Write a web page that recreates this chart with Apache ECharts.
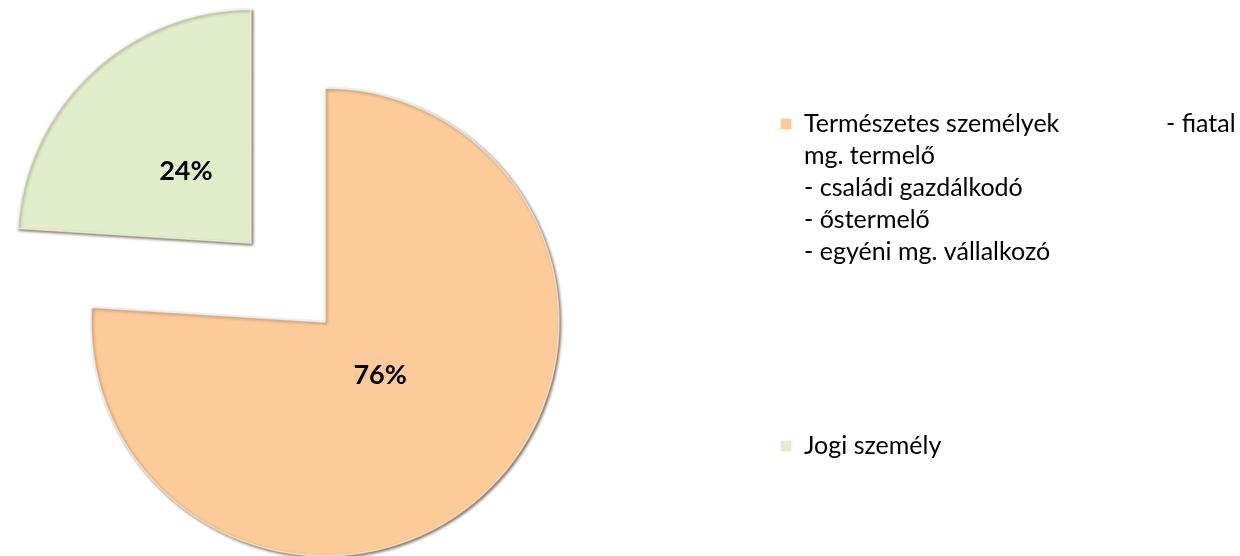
<!DOCTYPE html>
<html>
<head>
<meta charset="utf-8">
<script src="https://cdn.jsdelivr.net/npm/echarts@6/dist/echarts.min.js"></script>
<style>
  html, body { margin: 0; padding: 0; background: #fff; }
  #main { width: 1240px; height: 556px; }
</style>
</head>
<body>
<div id="main"></div>
<script>
// kategóriák és értékek (%)
var categories = [
	'Természetes személyek - fiatal mg. termelő - családi gazdálkodó - őstermelő - egyéni mg. vállalkozó',
	'Jogi személy'
];
var values = [76, 24];
var sliceColors = ['#fdcb99', '#e2eecb'];

// jelmagyarázat sorai az első tételhez
var firstHead = 'Természetes személyek';
var firstTail = '- fiatal';
var firstLines = ['mg. termelő', '- családi gazdálkodó', '- őstermelő', '- egyéni mg. vállalkozó'];

var myChart = echarts.init(document.getElementById('main'));

var pieData = [];
for (var i = 0; i < categories.length; i++) {
	pieData.push({
		name: categories[i],
		value: values[i],
		selected: i === 1, // a jogi személy szelet kiemelve
		itemStyle: { color: sliceColors[i] }
	});
}

var txt = { color: '#000', fontFamily: 'Lato', fontSize: 25, lineHeight: 32 };

var option = {
	animation: false,
	legend: [
		{
			// első tétel, több soros szöveg
			data: [categories[0]],
			orient: 'vertical',
			left: 779,
			top: -20,
			padding: 0,
			icon: 'rect',
			itemWidth: 12,
			itemHeight: 12,
			selectedMode: false,
			formatter: function(name) {
				var s = '{a|' + firstHead + '}{b|' + firstTail + '}';
				for (var k = 0; k < firstLines.length; k++) {
					s += '\n{c|' + firstLines[k] + '}';
				}
				return s;
			},
			textStyle: {
				color: '#000',
				fontFamily: 'Lato',
				fontSize: 25,
				lineHeight: 32,
				padding: [128, 0, 0, 7],
				rich: {
					a: echarts.util.extend({ width: 362 }, txt),
					b: echarts.util.extend({}, txt),
					c: echarts.util.extend({}, txt)
				}
			}
		},
		{
			data: [categories[1]],
			orient: 'vertical',
			left: 779,
			top: 430,
			padding: 0,
			icon: 'rect',
			itemWidth: 12,
			itemHeight: 12,
			selectedMode: false,
			textStyle: {
				color: '#000',
				fontFamily: 'Lato',
				fontSize: 25,
				lineHeight: 32,
				padding: [0, 0, 0, 7]
			}
		}
	],
	series: [
		{
			type: 'pie',
			center: [325, 322],
			radius: 234,
			startAngle: 90,
			clockwise: true,
			selectedMode: 'single',
			selectedOffset: 108,
			silent: true,
			itemStyle: {
				borderColor: 'rgba(255,255,255,0.6)',
				borderWidth: 1.5,
				shadowBlur: 3,
				shadowOffsetX: 1.5,
				shadowOffsetY: 1.5,
				shadowColor: 'rgba(60,40,20,0.7)'
			},
			label: {
				show: true,
				position: 'inner',
				formatter: '{d}%',
				color: '#000',
				fontFamily: 'Lato',
				fontWeight: 'bold',
				fontSize: 27
			},
			labelLine: { show: false },
			// címkék finom eltolása az eredeti elhelyezéshez
			labelLayout: function(params) {
				if (params.dataIndex === 0) {
					return { dx: -27, dy: -34 };
				}
				return { dx: 17, dy: 16 };
			},
			emphasis: { disabled: true },
			data: pieData
		}
	]
};

myChart.setOption(option);
</script>
</body>
</html>
